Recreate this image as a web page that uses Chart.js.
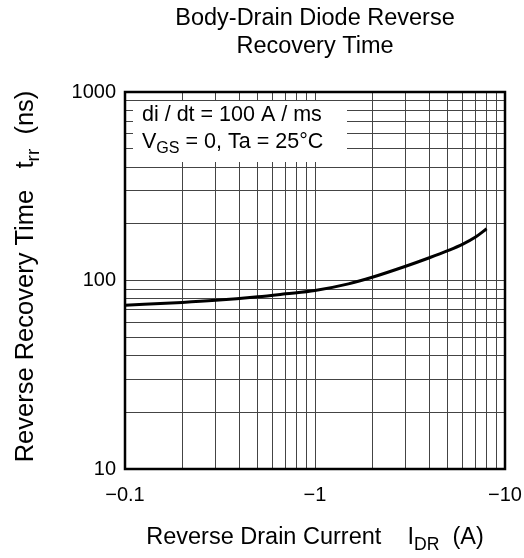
<!DOCTYPE html>
<html><head><meta charset="utf-8">
<script src="https://cdn.jsdelivr.net/npm/chart.js@4.4.1/dist/chart.umd.min.js"></script>
<style>html,body{margin:0;padding:0;background:#fff}</style>
</head><body>
<canvas id="c" width="524" height="558"></canvas>
<script>
const FONT = "'Liberation Sans', Arial, Helvetica, sans-serif";

// Data (Reverse Drain Current in A, t_rr in ns)
const drainCurrentA = [-0.1, -0.2, -0.3, -0.5, -0.7, -1, -1.5, -2, -3, -4, -5, -6, -7, -8];
const recoveryTimeNs = [74, 76.5, 78.5, 82, 85, 88.5, 96, 104, 119, 132, 144, 156, 170, 188];

// Axis ticks
const xTickValues = [-0.1, -1, -10];
const xTickLabels = ['\u22120.1', '\u22121', '\u221210'];
const yTickValues = [10, 100, 1000];
const yTickLabels = ['10', '100', '1000'];
const gridMultipliers = [1, 2, 3, 4, 5, 6, 7, 8, 9];

// Texts
const titleLines = ['Body-Drain Diode Reverse', 'Recovery Time'];
const xAxisTitle = [{t: 'Reverse Drain Current    I'}, {t: 'DR', sub: true}, {t: '  (A)'}];
const yAxisTitle = [{t: 'Reverse Recovery Time   t'}, {t: 'rr', sub: true}, {t: '  (ns)'}];
const noteLine1 = [{t: 'di / dt = 100 A / ms'}];
const noteLine2 = [{t: 'V'}, {t: 'GS', sub: true}, {t: ' = 0, Ta = 25\u00b0C'}];

function gridValues(decadeValues) {
  const mags = decadeValues.map(v => Math.abs(v));
  const out = [];
  for (let i = 0; i < mags.length - 1; i++) {
    gridMultipliers.forEach(m => out.push(mags[i] * m));
  }
  out.push(mags[mags.length - 1]);
  return out;
}
function labelFor(value, values, labels) {
  const i = values.findIndex(v => Math.abs(Math.abs(v) - value) < 1e-9 * Math.max(1, value));
  return i >= 0 ? labels[i] : '';
}

function drawRich(ctx, parts, size, x, y, align) {
  let w = 0;
  const m = parts.map(p => {
    const fs = p.sub ? size * 0.75 : size;
    ctx.font = fs + 'px ' + FONT;
    const pw = ctx.measureText(p.t).width;
    w += pw;
    return {p, fs, pw};
  });
  let cx = align === 'center' ? x - w / 2 : x;
  m.forEach(({p, fs, pw}) => {
    ctx.font = fs + 'px ' + FONT;
    ctx.fillText(p.t, cx, y + (p.sub ? size * 0.25 : 0));
    cx += pw;
  });
}

const decorPlugin = {
  id: 'decor',
  afterDraw(chart) {
    const ctx = chart.ctx;
    const a = chart.chartArea;
    ctx.save();
    ctx.textAlign = 'left';
    ctx.textBaseline = 'alphabetic';
    // annotation box
    ctx.fillStyle = '#fff';
    ctx.fillRect(a.left + 8, a.top + 9, 214, 61);
    ctx.fillStyle = '#000';
    drawRich(ctx, noteLine1, 21.5, a.left + 17, a.top + 29, 'left');
    drawRich(ctx, noteLine2, 21.5, a.left + 17, a.top + 56, 'left');
    // axis titles
    drawRich(ctx, xAxisTitle, 23.5, (a.left + a.right) / 2, 544, 'center');
    ctx.translate(33, (a.top + a.bottom) / 2 - 4);
    ctx.rotate(-Math.PI / 2);
    drawRich(ctx, yAxisTitle, 25.5, 0, 0, 'center');
    ctx.restore();
    // frame
    ctx.save();
    ctx.strokeStyle = '#000';
    ctx.lineWidth = 2.5;
    ctx.strokeRect(a.left, a.top, a.right - a.left, a.bottom - a.top);
    ctx.restore();
  }
};

new Chart(document.getElementById('c'), {
  type: 'line',
  data: {
    datasets: [{
      data: drainCurrentA.map((x, i) => ({x: Math.abs(x), y: recoveryTimeNs[i]})),
      borderColor: '#000',
      borderWidth: 3,
      pointRadius: 0,
      fill: false,
      cubicInterpolationMode: 'monotone'
    }]
  },
  options: {
    responsive: false,
    animation: false,
    devicePixelRatio: 1,
    layout: {padding: {left: 0, right: 19, top: 0, bottom: 0}},
    plugins: {
      legend: {display: false},
      tooltip: {enabled: false},
      title: {
        display: true,
        fullSize: false,
        text: titleLines,
        color: '#000',
        font: {family: FONT, size: 23.5, weight: 'normal', lineHeight: 1.2},
        padding: {top: 4, bottom: 31.6}
      }
    },
    scales: {
      x: {
        type: 'logarithmic',
        min: Math.abs(xTickValues[0]),
        max: Math.abs(xTickValues[xTickValues.length - 1]),
        afterBuildTicks: s => { s.ticks = gridValues(xTickValues).map(v => ({value: v})); },
        afterFit: s => { s.height = 89; s.paddingRight = 0; s.paddingLeft = 0; },
        grid: {color: '#444', lineWidth: 1, drawTicks: false},
        border: {display: false},
        ticks: {
          autoSkip: false, maxRotation: 0, padding: 14, color: '#000',
          font: {family: FONT, size: 20},
          callback: v => labelFor(v, xTickValues, xTickLabels)
        }
      },
      y: {
        type: 'logarithmic',
        min: yTickValues[0],
        max: yTickValues[yTickValues.length - 1],
        afterBuildTicks: s => { s.ticks = gridValues(yTickValues).map(v => ({value: v})); },
        afterFit: s => { s.width = 125; s.paddingTop = 0; s.paddingBottom = 0; },
        grid: {color: '#444', lineWidth: 1, drawTicks: false},
        border: {display: false},
        ticks: {
          autoSkip: false, padding: 9, color: '#000',
          font: {family: FONT, size: 20},
          callback: v => labelFor(v, yTickValues, yTickLabels)
        }
      }
    }
  },
  plugins: [decorPlugin]
});
</script>
</body></html>
